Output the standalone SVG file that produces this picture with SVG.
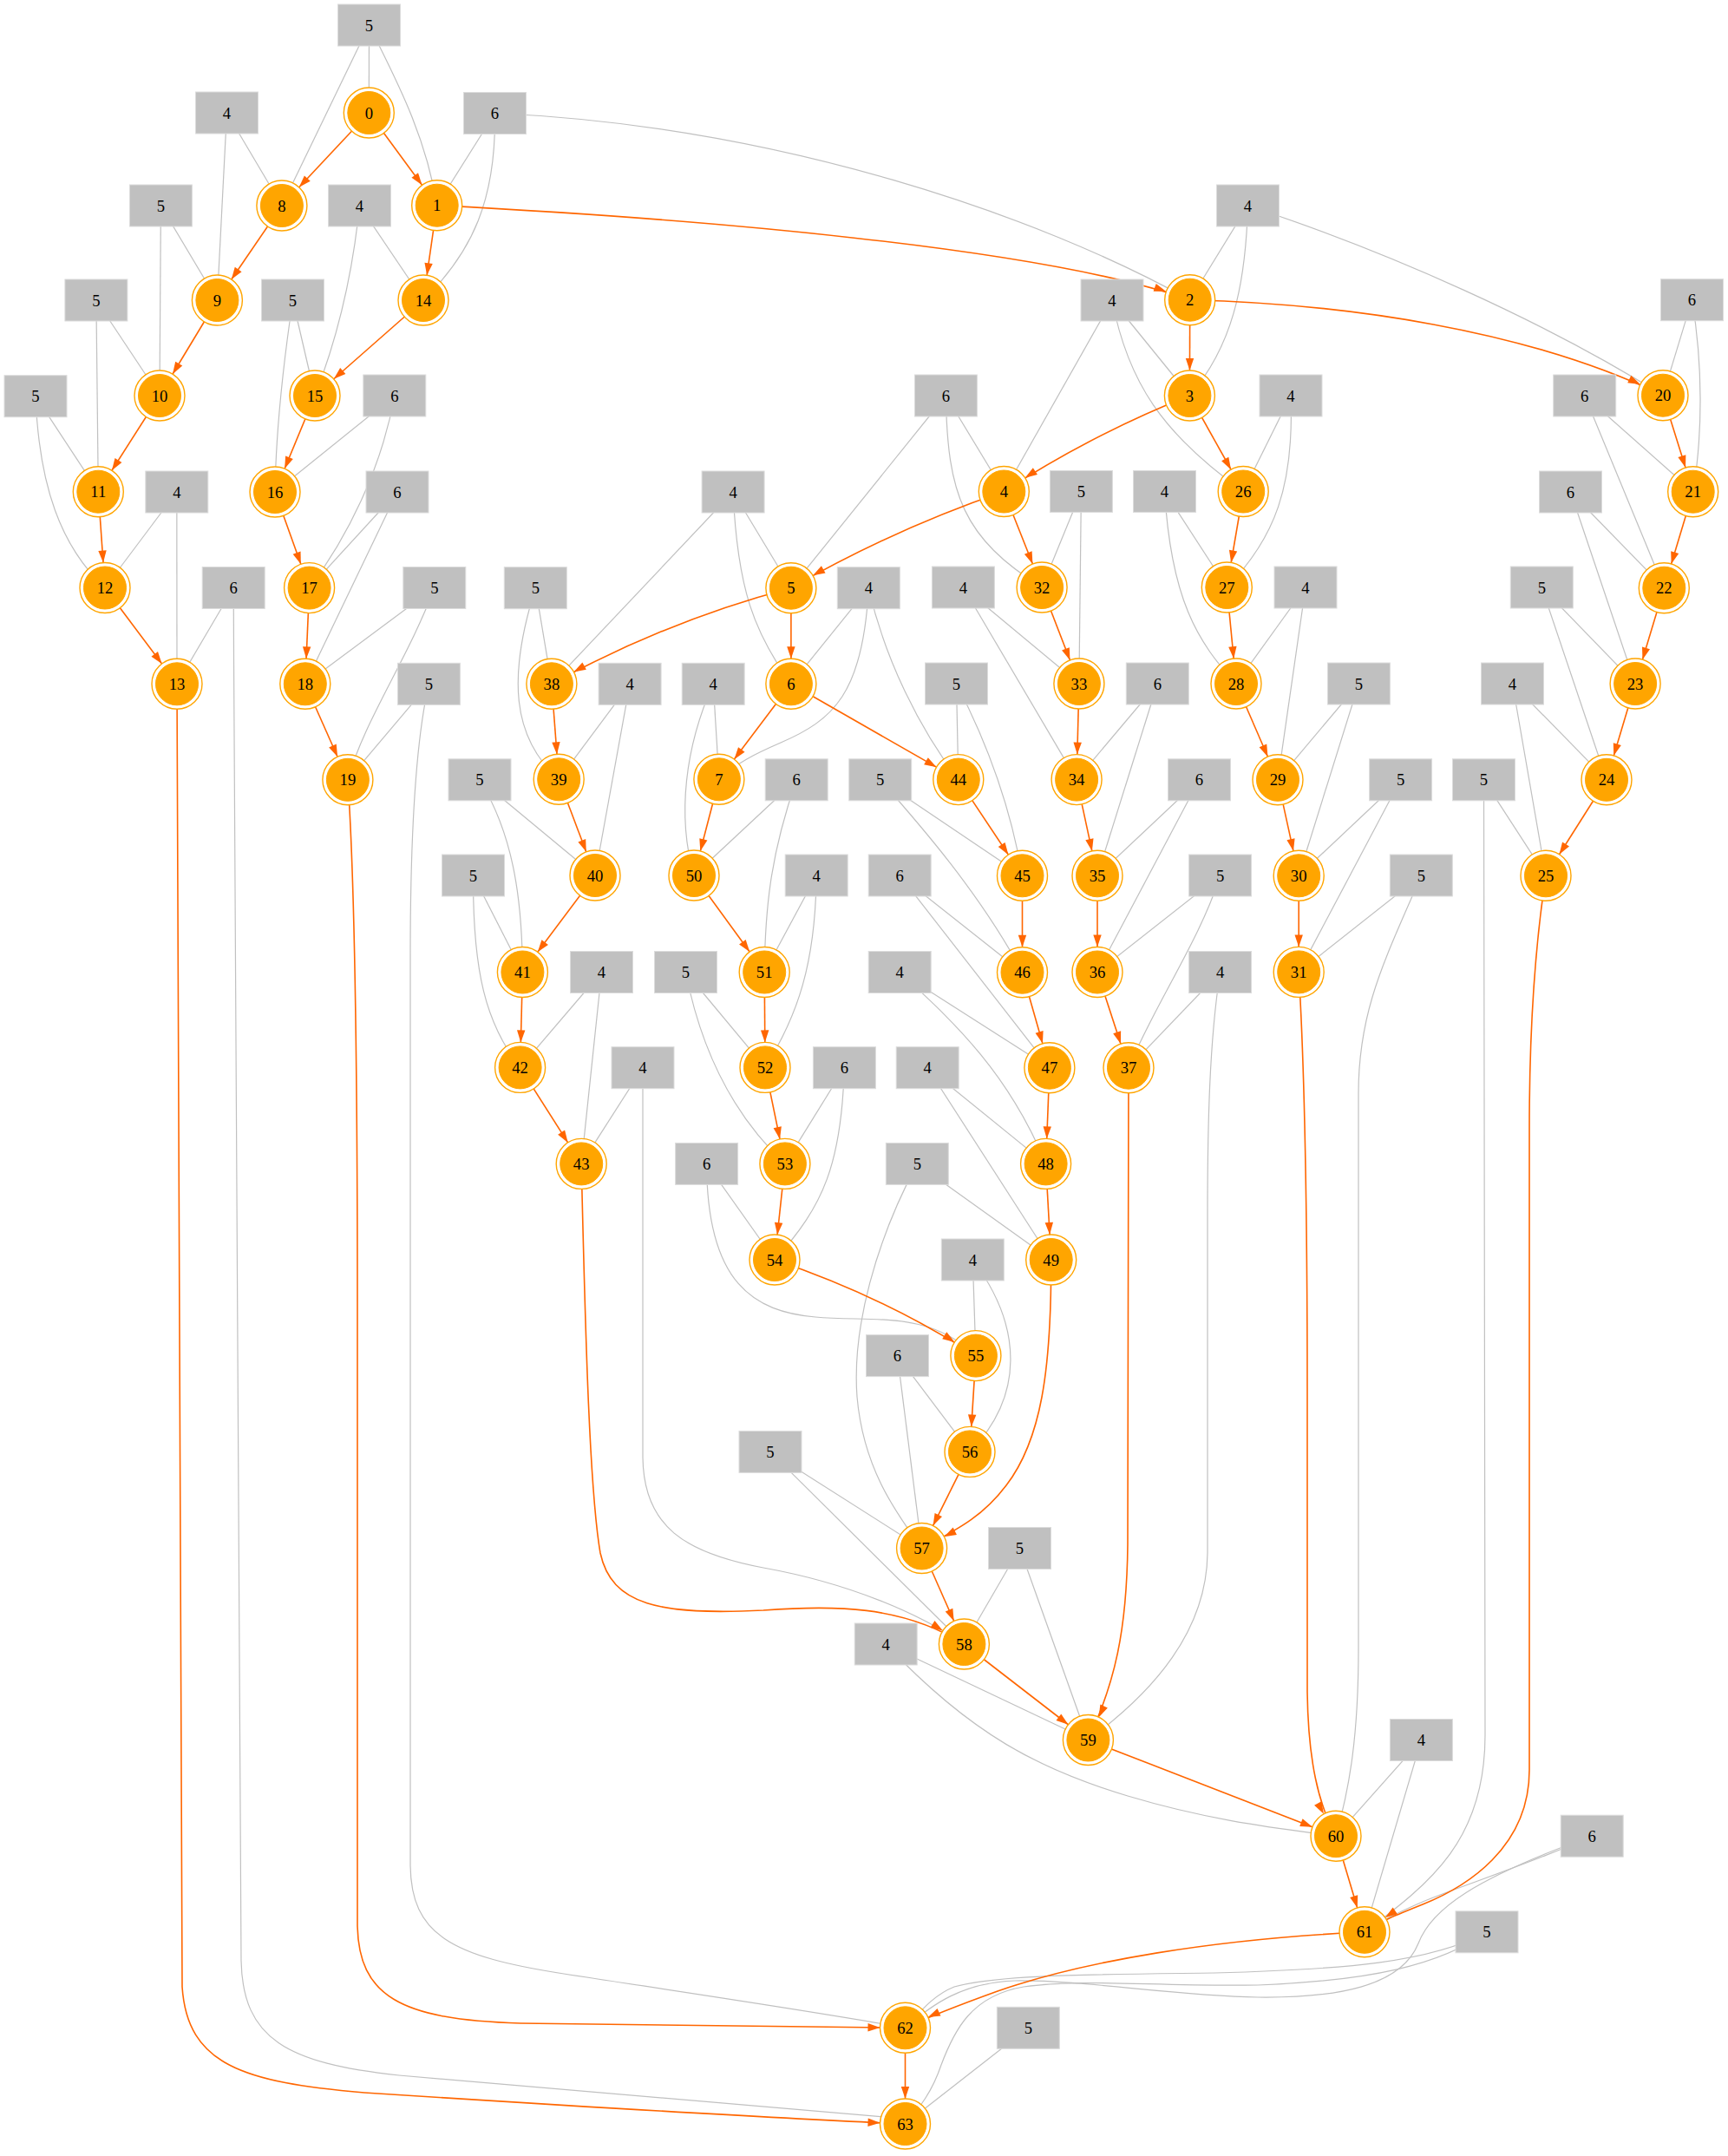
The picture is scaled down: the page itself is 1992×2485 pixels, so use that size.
<svg xmlns="http://www.w3.org/2000/svg" width="1992" height="2485" viewBox="0 0 1992 2485">
<style>
  .bg{fill:#ffffff}
  .e{fill:none;stroke:#c0c0c0;stroke-width:1.2}
  .a{fill:none;stroke:#ff6600;stroke-width:1.6;marker-end:url(#arr)}
  .r rect{fill:#c0c0c0;stroke:#dcdcdc;stroke-width:1}
  text{font-family:"Liberation Serif","Times New Roman",serif;font-size:18.67px;text-anchor:middle;fill:#000000}
</style>
<defs>
  <marker id="arr" markerUnits="userSpaceOnUse" markerWidth="14" markerHeight="10" refX="43" refY="5" orient="auto" overflow="visible">
    <path d="M0,0.3 L14,5 L0,9.7 z" fill="#ff6600"/>
  </marker>
  <g id="dc">
    <circle r="29" fill="#ffffff" stroke="#ffa500" stroke-width="1.4"/>
    <circle r="24.5" fill="#ffa500" stroke="#ffa500" stroke-width="1"/>
  </g>
</defs>
<rect class="bg" width="1992" height="2485"/>

<!-- connectors: grey weight inputs, orange chain -->
<g id="connectors">
  <g id="grey">
    <path class="e" d="M425.5,29 L425.3,130"/>
    <path class="e" d="M425.5,29 L324.9,237"/>
    <path class="e" d="M425.5,29 C450,80 490,150 503.7,236.7"/>
    <path class="e" d="M261.5,130 L324.9,237"/>
    <path class="e" d="M261.5,130 L250.4,346"/>
    <path class="e" d="M570.5,130.5 L503.7,236.7"/>
    <path class="e" d="M570.5,130.5 C572,230 545,290 488,346"/>
    <path class="e" d="M570.5,130.5 C900,145 1200,250 1371.7,345.7"/>
    <path class="e" d="M185.4,237 L250.4,346"/>
    <path class="e" d="M185.4,237 L184,456"/>
    <path class="e" d="M414.5,237 L488,346"/>
    <path class="e" d="M414.5,237 C405,330 385,400 363,456"/>
    <path class="e" d="M1438.5,237 L1371.7,345.7"/>
    <path class="e" d="M1438.5,237 C1436,330 1420,400 1371.4,456"/>
    <path class="e" d="M1438.5,237 C1600,290 1780,370 1917,455.7"/>
    <path class="e" d="M110.9,346 L184,456"/>
    <path class="e" d="M110.9,346 L113.3,566.7"/>
    <path class="e" d="M337.5,346 L363,456"/>
    <path class="e" d="M337.5,346 C325,430 318,500 317,567"/>
    <path class="e" d="M1282,346 L1371.4,456"/>
    <path class="e" d="M1282,346 L1157.3,566.5"/>
    <path class="e" d="M1282,346 C1300,440 1340,500 1433.2,566.5"/>
    <path class="e" d="M1950.5,345.7 L1917,455.7"/>
    <path class="e" d="M1950.5,345.7 C1963,420 1963,500 1951.7,566.7"/>
    <path class="e" d="M41,456.7 L113.3,566.7"/>
    <path class="e" d="M41,456.7 C45,560 70,630 121,677.5"/>
    <path class="e" d="M454.8,456 L317,567"/>
    <path class="e" d="M454.8,456 C440,540 400,620 356.6,677.6"/>
    <path class="e" d="M1090.4,456 L1157.3,566.5"/>
    <path class="e" d="M1090.4,456 L911.9,677.7"/>
    <path class="e" d="M1090.4,456 C1092,570 1110,620 1201.1,677"/>
    <path class="e" d="M1488,456 L1433.2,566.5"/>
    <path class="e" d="M1488,456 C1492,560 1470,620 1414.3,677"/>
    <path class="e" d="M1826.7,456 L1951.7,566.7"/>
    <path class="e" d="M1826.7,456 L1918.3,677.7"/>
    <path class="e" d="M203.8,567 L121,677.5"/>
    <path class="e" d="M203.8,567 L204,788.3"/>
    <path class="e" d="M458,567 L356.6,677.6"/>
    <path class="e" d="M458,567 L351.8,788.3"/>
    <path class="e" d="M845.1,567 L911.9,677.7"/>
    <path class="e" d="M845.1,567 L635.9,788.3"/>
    <path class="e" d="M845.1,567 C850,680 870,730 911.9,788.3"/>
    <path class="e" d="M1246.4,566.4 L1201.1,677"/>
    <path class="e" d="M1246.4,566.4 L1243.9,788"/>
    <path class="e" d="M1342.5,566.4 L1414.3,677"/>
    <path class="e" d="M1342.5,566.4 C1350,690 1380,740 1425,788"/>
    <path class="e" d="M1810.5,567 L1918.3,677.7"/>
    <path class="e" d="M1810.5,567 L1885.1,788"/>
    <path class="e" d="M269.2,677.5 L204,788.3"/>
    <path class="e" d="M269.2,677.5 C272,1400 276,2150 278,2260 C280,2350 330,2378 460,2392 C700,2412 900,2430 1043.5,2442"/>
    <path class="e" d="M500.8,677.5 L351.8,788.3"/>
    <path class="e" d="M500.8,677.5 C470,760 420,830 400.9,898.8"/>
    <path class="e" d="M617.3,677.7 L635.9,788.3"/>
    <path class="e" d="M617.3,677.7 C585,780 590,850 644.2,898.3"/>
    <path class="e" d="M1001.3,677.7 L911.9,788.3"/>
    <path class="e" d="M1001.3,677.7 C995,800 960,830 900,856 C870,869 848,880 828.9,898.3"/>
    <path class="e" d="M1001.3,677.7 C1020,760 1060,840 1104.8,898.6"/>
    <path class="e" d="M1110.4,677 L1243.9,788"/>
    <path class="e" d="M1110.4,677 L1241.1,898.6"/>
    <path class="e" d="M1505,677 L1425,788"/>
    <path class="e" d="M1505,677 L1473,898.8"/>
    <path class="e" d="M1777.3,677 L1885.1,788"/>
    <path class="e" d="M1777.3,677 L1852,898.8"/>
    <path class="e" d="M494.4,788.3 L400.9,898.8"/>
    <path class="e" d="M494.4,788.3 C480,850 473,950 473,1100 L473,2150 C474,2230 520,2255 650,2275 C800,2298 950,2320 1043.5,2337.3"/>
    <path class="e" d="M726.1,788.3 L644.2,898.3"/>
    <path class="e" d="M726.1,788.3 L686,1009"/>
    <path class="e" d="M822.2,788.3 L828.9,898.3"/>
    <path class="e" d="M822.2,788.3 C790,860 780,940 800,1009"/>
    <path class="e" d="M1102.5,788 L1104.8,898.6"/>
    <path class="e" d="M1102.5,788 C1140,860 1165,930 1178.5,1009.3"/>
    <path class="e" d="M1334.3,788 L1241.1,898.6"/>
    <path class="e" d="M1334.3,788 L1265,1009.3"/>
    <path class="e" d="M1566.4,788 L1473,898.8"/>
    <path class="e" d="M1566.4,788 L1497.2,1009.3"/>
    <path class="e" d="M1743.5,788 L1852,898.8"/>
    <path class="e" d="M1743.5,788 L1782,1009.3"/>
    <path class="e" d="M553,898.8 L686,1009"/>
    <path class="e" d="M553,898.8 C590,960 602,1030 602.4,1120.5"/>
    <path class="e" d="M918.2,898.8 L800,1009"/>
    <path class="e" d="M918.2,898.8 C890,980 882,1040 881.2,1120.5"/>
    <path class="e" d="M1014.7,898.8 L1178.5,1009.3"/>
    <path class="e" d="M1014.7,898.8 C1060,950 1130,1030 1178.5,1120.7"/>
    <path class="e" d="M1382.5,898.8 L1265,1009.3"/>
    <path class="e" d="M1382.5,898.8 L1265,1120.5"/>
    <path class="e" d="M1614.6,898.8 L1497.2,1009.3"/>
    <path class="e" d="M1614.6,898.8 L1497.2,1120.4"/>
    <path class="e" d="M1710.5,898.8 L1782,1009.3"/>
    <path class="e" d="M1710.5,898.8 L1712,2000 C1712,2120 1650,2170 1573,2226.8"/>
    <path class="e" d="M545.5,1009 L602.4,1120.5"/>
    <path class="e" d="M545.5,1009 C545,1120 560,1180 599.6,1230.4"/>
    <path class="e" d="M941.2,1009 L881.2,1120.5"/>
    <path class="e" d="M941.2,1009 C940,1110 920,1170 882,1230.4"/>
    <path class="e" d="M1037.2,1009 L1178.5,1120.7"/>
    <path class="e" d="M1037.2,1009 L1209.9,1230.7"/>
    <path class="e" d="M1406.6,1009 L1265,1120.5"/>
    <path class="e" d="M1406.6,1009 C1385,1080 1330,1160 1301,1230.7"/>
    <path class="e" d="M1638.3,1009 L1497.2,1120.4"/>
    <path class="e" d="M1638.3,1009 C1600,1100 1566,1160 1566,1260 L1566,1900 C1566,2000 1556,2060 1540,2116.2"/>
    <path class="e" d="M693.5,1120.5 L599.6,1230.4"/>
    <path class="e" d="M693.5,1120.5 L670.2,1341.4"/>
    <path class="e" d="M790.5,1120.5 L882,1230.4"/>
    <path class="e" d="M790.5,1120.5 C810,1220 850,1290 904.9,1341.4"/>
    <path class="e" d="M1037.2,1120.5 L1209.9,1230.7"/>
    <path class="e" d="M1037.2,1120.5 C1090,1170 1160,1230 1205.6,1341.4"/>
    <path class="e" d="M1406.6,1120.5 L1301,1230.7"/>
    <path class="e" d="M1406.6,1120.5 C1394,1200 1392,1300 1392,1400 L1392,1790 C1391,1880 1330,1950 1254.4,2005.5"/>
    <path class="e" d="M741,1230.7 L670.2,1341.4"/>
    <path class="e" d="M741,1230.7 L741,1680 C742,1760 790,1790 880,1807 C980,1825 1060,1860 1111.4,1895"/>
    <path class="e" d="M973.4,1230.7 L904.9,1341.4"/>
    <path class="e" d="M973.4,1230.7 C970,1340 950,1390 893,1452"/>
    <path class="e" d="M1069.2,1230.7 L1205.6,1341.4"/>
    <path class="e" d="M1069.2,1230.7 L1211.7,1452"/>
    <path class="e" d="M814.6,1341.4 L893,1452"/>
    <path class="e" d="M814.6,1341.4 C815,1480 870,1512 940,1518 C1010,1524 1070,1510 1124.9,1562.6"/>
    <path class="e" d="M1057.3,1341.4 L1211.7,1452"/>
    <path class="e" d="M1057.3,1341.4 C1010,1430 982,1530 988,1610 C995,1690 1030,1740 1062.6,1784.5"/>
    <path class="e" d="M1121.3,1452 L1124.9,1562.6"/>
    <path class="e" d="M1121.3,1452 C1180,1530 1180,1610 1118,1673.4"/>
    <path class="e" d="M1034.5,1562.6 L1118,1673.4"/>
    <path class="e" d="M1034.5,1562.6 L1062.6,1784.5"/>
    <path class="e" d="M888,1673.4 L1062.6,1784.5"/>
    <path class="e" d="M888,1673.4 L1111.4,1895"/>
    <path class="e" d="M1175.5,1784.5 L1111.4,1895"/>
    <path class="e" d="M1175.5,1784.5 L1254.4,2005.5"/>
    <path class="e" d="M1021.2,1895 L1254.4,2005.5"/>
    <path class="e" d="M1021.2,1895 C1120,2000 1200,2040 1300,2070 C1400,2100 1480,2108 1540,2116.2"/>
    <path class="e" d="M1638.4,2005.5 L1540,2116.2"/>
    <path class="e" d="M1638.4,2005.5 L1573,2226.8"/>
    <path class="e" d="M1835.2,2116.2 C1760,2150 1680,2175 1640,2192 C1610,2205 1590,2215 1573,2226.8"/>
    <path class="e" d="M1835.2,2116.2 C1700,2165 1650,2200 1635,2240 C1615,2290 1540,2303 1450,2302 C1350,2300 1250,2282 1170,2283 C1110,2285 1075,2310 1043.5,2337.3"/>
    <path class="e" d="M1714,2226.8 C1650,2262 1550,2270 1400,2274 C1250,2276 1150,2276 1100,2290 C1075,2300 1060,2320 1043.5,2337.3"/>
    <path class="e" d="M1714,2226.8 C1660,2265 1580,2283 1450,2288 C1330,2290 1250,2280 1180,2290 C1120,2300 1100,2340 1085,2380 C1075,2410 1060,2430 1043.5,2448"/>
    <path class="e" d="M1185.3,2337.3 L1043.5,2448"/>
  </g>
  <g id="chain">
    <path class="a" d="M425.3,130 L324.9,237"/>
    <path class="a" d="M425.3,130 L503.7,236.7"/>
    <path class="a" d="M324.9,237 L250.4,346"/>
    <path class="a" d="M503.7,236.7 L488,346"/>
    <path class="a" d="M503.7,236.7 C800,252 1200,285 1371.7,345.7"/>
    <path class="a" d="M250.4,346 L184,456"/>
    <path class="a" d="M488,346 L363,456"/>
    <path class="a" d="M184,456 L113.3,566.7"/>
    <path class="a" d="M363,456 L317,567"/>
    <path class="a" d="M113.3,566.7 L121,677.5"/>
    <path class="a" d="M317,567 L356.6,677.6"/>
    <path class="a" d="M121,677.5 L204,788.3"/>
    <path class="a" d="M356.6,677.6 L351.8,788.3"/>
    <path class="a" d="M204,788.3 C205,1600 205,2200 210,2290 C216,2380 280,2400 420,2412 C700,2430 900,2442 1043.5,2448"/>
    <path class="a" d="M351.8,788.3 L400.9,898.8"/>
    <path class="a" d="M400.9,898.8 C408,1000 412,1200 412,1500 L412,2220 C414,2300 460,2328 600,2332 L1043.5,2337.3"/>
    <path class="a" d="M1371.7,345.7 L1371.4,456"/>
    <path class="a" d="M1371.7,345.7 C1550,350 1760,380 1917,455.7"/>
    <path class="a" d="M1371.4,456 Q1260,500 1157.3,566.5"/>
    <path class="a" d="M1371.4,456 L1433.2,566.5"/>
    <path class="a" d="M1157.3,566.5 Q1030,610 911.9,677.7"/>
    <path class="a" d="M1157.3,566.5 L1201.1,677"/>
    <path class="a" d="M1433.2,566.5 L1414.3,677"/>
    <path class="a" d="M911.9,677.7 Q770,715 635.9,788.3"/>
    <path class="a" d="M911.9,677.7 L911.9,788.3"/>
    <path class="a" d="M1201.1,677 L1243.9,788"/>
    <path class="a" d="M1414.3,677 L1425,788"/>
    <path class="a" d="M911.9,788.3 L828.9,898.3"/>
    <path class="a" d="M911.9,788.3 L1104.8,898.6"/>
    <path class="a" d="M635.9,788.3 L644.2,898.3"/>
    <path class="a" d="M1243.9,788 L1241.1,898.6"/>
    <path class="a" d="M1425,788 L1473,898.8"/>
    <path class="a" d="M828.9,898.3 L800,1009"/>
    <path class="a" d="M644.2,898.3 L686,1009"/>
    <path class="a" d="M1104.8,898.6 L1178.5,1009.3"/>
    <path class="a" d="M1241.1,898.6 L1265,1009.3"/>
    <path class="a" d="M1473,898.8 L1497.2,1009.3"/>
    <path class="a" d="M686,1009 L602.4,1120.5"/>
    <path class="a" d="M800,1009 L881.2,1120.5"/>
    <path class="a" d="M1178.5,1009.3 L1178.5,1120.7"/>
    <path class="a" d="M1265,1009.3 L1265,1120.5"/>
    <path class="a" d="M1497.2,1009.3 L1497.2,1120.4"/>
    <path class="a" d="M602.4,1120.5 L599.6,1230.4"/>
    <path class="a" d="M881.2,1120.5 L882,1230.4"/>
    <path class="a" d="M1178.5,1120.7 L1209.9,1230.7"/>
    <path class="a" d="M1265,1120.5 L1301,1230.7"/>
    <path class="a" d="M1497.2,1120.4 C1505,1250 1507,1400 1507,1600 L1507,1950 C1508,2030 1520,2080 1540,2116.2"/>
    <path class="a" d="M599.6,1230.4 L670.2,1341.4"/>
    <path class="a" d="M882,1230.4 L904.9,1341.4"/>
    <path class="a" d="M1209.9,1230.7 L1205.6,1341.4"/>
    <path class="a" d="M1301,1230.7 L1300,1780 C1299,1880 1285,1940 1254.4,2005.5"/>
    <path class="a" d="M670.2,1341.4 C675,1550 680,1720 692,1790 C705,1850 760,1862 880,1856 C960,1850 1040,1850 1111.4,1895"/>
    <path class="a" d="M904.9,1341.4 L893,1452"/>
    <path class="a" d="M1205.6,1341.4 L1211.7,1452"/>
    <path class="a" d="M1211.7,1452 C1212,1580 1200,1660 1160,1712 C1135,1745 1110,1760 1062.6,1784.5"/>
    <path class="a" d="M893,1452 Q1020,1495 1124.9,1562.6"/>
    <path class="a" d="M1124.9,1562.6 L1118,1673.4"/>
    <path class="a" d="M1118,1673.4 L1062.6,1784.5"/>
    <path class="a" d="M1062.6,1784.5 L1111.4,1895"/>
    <path class="a" d="M1111.4,1895 L1254.4,2005.5"/>
    <path class="a" d="M1254.4,2005.5 L1540,2116.2"/>
    <path class="a" d="M1540,2116.2 L1573,2226.8"/>
    <path class="a" d="M1917,455.7 L1951.7,566.7"/>
    <path class="a" d="M1951.7,566.7 L1918.3,677.7"/>
    <path class="a" d="M1918.3,677.7 L1885.1,788"/>
    <path class="a" d="M1885.1,788 L1852,898.8"/>
    <path class="a" d="M1852,898.8 L1782,1009.3"/>
    <path class="a" d="M1782,1009.3 C1768,1100 1763,1200 1763,1300 L1763,2040 C1763,2130 1690,2175 1640,2195 C1610,2207 1590,2215 1573,2226.8"/>
    <path class="a" d="M1573,2226.8 C1400,2235 1250,2260 1150,2295 C1100,2313 1070,2325 1043.5,2337.3"/>
    <path class="a" d="M1043.5,2337.3 L1043.5,2448"/>
  </g>
</g>

<!-- weight boxes -->
<g id="weights" class="r">
  <g id="w0"><rect x="389.5" y="5" width="72" height="48"/><text x="425.5" y="35.5">5</text></g>
  <g id="w1"><rect x="225.5" y="106" width="72" height="48"/><text x="261.5" y="136.5">4</text></g>
  <g id="w2"><rect x="534.5" y="106.5" width="72" height="48"/><text x="570.5" y="137">6</text></g>
  <g id="w3"><rect x="149.4" y="213" width="72" height="48"/><text x="185.4" y="243.5">5</text></g>
  <g id="w4"><rect x="378.5" y="213" width="72" height="48"/><text x="414.5" y="243.5">4</text></g>
  <g id="w5"><rect x="1402.5" y="213" width="72" height="48"/><text x="1438.5" y="243.5">4</text></g>
  <g id="w6"><rect x="74.9" y="322" width="72" height="48"/><text x="110.9" y="352.5">5</text></g>
  <g id="w7"><rect x="301.5" y="322" width="72" height="48"/><text x="337.5" y="352.5">5</text></g>
  <g id="w8"><rect x="1246" y="322" width="72" height="48"/><text x="1282" y="352.5">4</text></g>
  <g id="w9"><rect x="1914.5" y="321.7" width="72" height="48"/><text x="1950.5" y="352.2">6</text></g>
  <g id="w10"><rect x="5" y="432.7" width="72" height="48"/><text x="41" y="463.2">5</text></g>
  <g id="w11"><rect x="418.8" y="432" width="72" height="48"/><text x="454.8" y="462.5">6</text></g>
  <g id="w12"><rect x="1054.4" y="432" width="72" height="48"/><text x="1090.4" y="462.5">6</text></g>
  <g id="w13"><rect x="1452" y="432" width="72" height="48"/><text x="1488" y="462.5">4</text></g>
  <g id="w14"><rect x="1790.7" y="432" width="72" height="48"/><text x="1826.7" y="462.5">6</text></g>
  <g id="w15"><rect x="167.8" y="543" width="72" height="48"/><text x="203.8" y="573.5">4</text></g>
  <g id="w16"><rect x="422" y="543" width="72" height="48"/><text x="458" y="573.5">6</text></g>
  <g id="w17"><rect x="809.1" y="543" width="72" height="48"/><text x="845.1" y="573.5">4</text></g>
  <g id="w18"><rect x="1210.4" y="542.4" width="72" height="48"/><text x="1246.4" y="572.9">5</text></g>
  <g id="w19"><rect x="1306.5" y="542.4" width="72" height="48"/><text x="1342.5" y="572.9">4</text></g>
  <g id="w20"><rect x="1774.5" y="543" width="72" height="48"/><text x="1810.5" y="573.5">6</text></g>
  <g id="w21"><rect x="233.2" y="653.5" width="72" height="48"/><text x="269.2" y="684">6</text></g>
  <g id="w22"><rect x="464.8" y="653.5" width="72" height="48"/><text x="500.8" y="684">5</text></g>
  <g id="w23"><rect x="581.3" y="653.7" width="72" height="48"/><text x="617.3" y="684.2">5</text></g>
  <g id="w24"><rect x="965.3" y="653.7" width="72" height="48"/><text x="1001.3" y="684.2">4</text></g>
  <g id="w25"><rect x="1074.4" y="653" width="72" height="48"/><text x="1110.4" y="683.5">4</text></g>
  <g id="w26"><rect x="1469" y="653" width="72" height="48"/><text x="1505" y="683.5">4</text></g>
  <g id="w27"><rect x="1741.3" y="653" width="72" height="48"/><text x="1777.3" y="683.5">5</text></g>
  <g id="w28"><rect x="458.4" y="764.3" width="72" height="48"/><text x="494.4" y="794.8">5</text></g>
  <g id="w29"><rect x="690.1" y="764.3" width="72" height="48"/><text x="726.1" y="794.8">4</text></g>
  <g id="w30"><rect x="786.2" y="764.3" width="72" height="48"/><text x="822.2" y="794.8">4</text></g>
  <g id="w31"><rect x="1066.5" y="764" width="72" height="48"/><text x="1102.5" y="794.5">5</text></g>
  <g id="w32"><rect x="1298.3" y="764" width="72" height="48"/><text x="1334.3" y="794.5">6</text></g>
  <g id="w33"><rect x="1530.4" y="764" width="72" height="48"/><text x="1566.4" y="794.5">5</text></g>
  <g id="w34"><rect x="1707.5" y="764" width="72" height="48"/><text x="1743.5" y="794.5">4</text></g>
  <g id="w35"><rect x="517" y="874.8" width="72" height="48"/><text x="553" y="905.3">5</text></g>
  <g id="w36"><rect x="882.2" y="874.8" width="72" height="48"/><text x="918.2" y="905.3">6</text></g>
  <g id="w37"><rect x="978.7" y="874.8" width="72" height="48"/><text x="1014.7" y="905.3">5</text></g>
  <g id="w38"><rect x="1346.5" y="874.8" width="72" height="48"/><text x="1382.5" y="905.3">6</text></g>
  <g id="w39"><rect x="1578.6" y="874.8" width="72" height="48"/><text x="1614.6" y="905.3">5</text></g>
  <g id="w40"><rect x="1674.5" y="874.8" width="72" height="48"/><text x="1710.5" y="905.3">5</text></g>
  <g id="w41"><rect x="509.5" y="985" width="72" height="48"/><text x="545.5" y="1015.5">5</text></g>
  <g id="w42"><rect x="905.2" y="985" width="72" height="48"/><text x="941.2" y="1015.5">4</text></g>
  <g id="w43"><rect x="1001.2" y="985" width="72" height="48"/><text x="1037.2" y="1015.5">6</text></g>
  <g id="w44"><rect x="1370.6" y="985" width="72" height="48"/><text x="1406.6" y="1015.5">5</text></g>
  <g id="w45"><rect x="1602.3" y="985" width="72" height="48"/><text x="1638.3" y="1015.5">5</text></g>
  <g id="w46"><rect x="657.5" y="1096.5" width="72" height="48"/><text x="693.5" y="1127">4</text></g>
  <g id="w47"><rect x="754.5" y="1096.5" width="72" height="48"/><text x="790.5" y="1127">5</text></g>
  <g id="w48"><rect x="1001.2" y="1096.5" width="72" height="48"/><text x="1037.2" y="1127">4</text></g>
  <g id="w49"><rect x="1370.6" y="1096.5" width="72" height="48"/><text x="1406.6" y="1127">4</text></g>
  <g id="w50"><rect x="705" y="1206.7" width="72" height="48"/><text x="741" y="1237.2">4</text></g>
  <g id="w51"><rect x="937.4" y="1206.7" width="72" height="48"/><text x="973.4" y="1237.2">6</text></g>
  <g id="w52"><rect x="1033.2" y="1206.7" width="72" height="48"/><text x="1069.2" y="1237.2">4</text></g>
  <g id="w53"><rect x="778.6" y="1317.4" width="72" height="48"/><text x="814.6" y="1347.9">6</text></g>
  <g id="w54"><rect x="1021.3" y="1317.4" width="72" height="48"/><text x="1057.3" y="1347.9">5</text></g>
  <g id="w55"><rect x="1085.3" y="1428" width="72" height="48"/><text x="1121.3" y="1458.5">4</text></g>
  <g id="w56"><rect x="998.5" y="1538.6" width="72" height="48"/><text x="1034.5" y="1569.1">6</text></g>
  <g id="w57"><rect x="852" y="1649.4" width="72" height="48"/><text x="888" y="1679.9">5</text></g>
  <g id="w58"><rect x="1139.5" y="1760.5" width="72" height="48"/><text x="1175.5" y="1791">5</text></g>
  <g id="w59"><rect x="985.2" y="1871" width="72" height="48"/><text x="1021.2" y="1901.5">4</text></g>
  <g id="w60"><rect x="1602.4" y="1981.5" width="72" height="48"/><text x="1638.4" y="2012">4</text></g>
  <g id="w61"><rect x="1799.2" y="2092.2" width="72" height="48"/><text x="1835.2" y="2122.7">6</text></g>
  <g id="w62"><rect x="1678" y="2202.8" width="72" height="48"/><text x="1714" y="2233.3">5</text></g>
  <g id="w63"><rect x="1149.3" y="2313.3" width="72" height="48"/><text x="1185.3" y="2343.8">5</text></g>
</g>

<!-- layer nodes -->
<g id="layers">
  <g id="n0" transform="translate(425.3,130)"><use href="#dc"/><text y="6.5">0</text></g>
  <g id="n1" transform="translate(503.7,236.7)"><use href="#dc"/><text y="6.5">1</text></g>
  <g id="n2" transform="translate(1371.7,345.7)"><use href="#dc"/><text y="6.5">2</text></g>
  <g id="n3" transform="translate(1371.4,456)"><use href="#dc"/><text y="6.5">3</text></g>
  <g id="n4" transform="translate(1157.3,566.5)"><use href="#dc"/><text y="6.5">4</text></g>
  <g id="n5" transform="translate(911.9,677.7)"><use href="#dc"/><text y="6.5">5</text></g>
  <g id="n6" transform="translate(911.9,788.3)"><use href="#dc"/><text y="6.5">6</text></g>
  <g id="n7" transform="translate(828.9,898.3)"><use href="#dc"/><text y="6.5">7</text></g>
  <g id="n8" transform="translate(324.9,237)"><use href="#dc"/><text y="6.5">8</text></g>
  <g id="n9" transform="translate(250.4,346)"><use href="#dc"/><text y="6.5">9</text></g>
  <g id="n10" transform="translate(184,456)"><use href="#dc"/><text y="6.5">10</text></g>
  <g id="n11" transform="translate(113.3,566.7)"><use href="#dc"/><text y="6.5">11</text></g>
  <g id="n12" transform="translate(121,677.5)"><use href="#dc"/><text y="6.5">12</text></g>
  <g id="n13" transform="translate(204,788.3)"><use href="#dc"/><text y="6.5">13</text></g>
  <g id="n14" transform="translate(488,346)"><use href="#dc"/><text y="6.5">14</text></g>
  <g id="n15" transform="translate(363,456)"><use href="#dc"/><text y="6.5">15</text></g>
  <g id="n16" transform="translate(317,567)"><use href="#dc"/><text y="6.5">16</text></g>
  <g id="n17" transform="translate(356.6,677.6)"><use href="#dc"/><text y="6.5">17</text></g>
  <g id="n18" transform="translate(351.8,788.3)"><use href="#dc"/><text y="6.5">18</text></g>
  <g id="n19" transform="translate(400.9,898.8)"><use href="#dc"/><text y="6.5">19</text></g>
  <g id="n20" transform="translate(1917,455.7)"><use href="#dc"/><text y="6.5">20</text></g>
  <g id="n21" transform="translate(1951.7,566.7)"><use href="#dc"/><text y="6.5">21</text></g>
  <g id="n22" transform="translate(1918.3,677.7)"><use href="#dc"/><text y="6.5">22</text></g>
  <g id="n23" transform="translate(1885.1,788)"><use href="#dc"/><text y="6.5">23</text></g>
  <g id="n24" transform="translate(1852,898.8)"><use href="#dc"/><text y="6.5">24</text></g>
  <g id="n25" transform="translate(1782,1009.3)"><use href="#dc"/><text y="6.5">25</text></g>
  <g id="n26" transform="translate(1433.2,566.5)"><use href="#dc"/><text y="6.5">26</text></g>
  <g id="n27" transform="translate(1414.3,677)"><use href="#dc"/><text y="6.5">27</text></g>
  <g id="n28" transform="translate(1425,788)"><use href="#dc"/><text y="6.5">28</text></g>
  <g id="n29" transform="translate(1473,898.8)"><use href="#dc"/><text y="6.5">29</text></g>
  <g id="n30" transform="translate(1497.2,1009.3)"><use href="#dc"/><text y="6.5">30</text></g>
  <g id="n31" transform="translate(1497.2,1120.4)"><use href="#dc"/><text y="6.5">31</text></g>
  <g id="n32" transform="translate(1201.1,677)"><use href="#dc"/><text y="6.5">32</text></g>
  <g id="n33" transform="translate(1243.9,788)"><use href="#dc"/><text y="6.5">33</text></g>
  <g id="n34" transform="translate(1241.1,898.6)"><use href="#dc"/><text y="6.5">34</text></g>
  <g id="n35" transform="translate(1265,1009.3)"><use href="#dc"/><text y="6.5">35</text></g>
  <g id="n36" transform="translate(1265,1120.5)"><use href="#dc"/><text y="6.5">36</text></g>
  <g id="n37" transform="translate(1301,1230.7)"><use href="#dc"/><text y="6.5">37</text></g>
  <g id="n38" transform="translate(635.9,788.3)"><use href="#dc"/><text y="6.5">38</text></g>
  <g id="n39" transform="translate(644.2,898.3)"><use href="#dc"/><text y="6.5">39</text></g>
  <g id="n40" transform="translate(686,1009)"><use href="#dc"/><text y="6.5">40</text></g>
  <g id="n41" transform="translate(602.4,1120.5)"><use href="#dc"/><text y="6.5">41</text></g>
  <g id="n42" transform="translate(599.6,1230.4)"><use href="#dc"/><text y="6.5">42</text></g>
  <g id="n43" transform="translate(670.2,1341.4)"><use href="#dc"/><text y="6.5">43</text></g>
  <g id="n44" transform="translate(1104.8,898.6)"><use href="#dc"/><text y="6.5">44</text></g>
  <g id="n45" transform="translate(1178.5,1009.3)"><use href="#dc"/><text y="6.5">45</text></g>
  <g id="n46" transform="translate(1178.5,1120.7)"><use href="#dc"/><text y="6.5">46</text></g>
  <g id="n47" transform="translate(1209.9,1230.7)"><use href="#dc"/><text y="6.5">47</text></g>
  <g id="n48" transform="translate(1205.6,1341.4)"><use href="#dc"/><text y="6.5">48</text></g>
  <g id="n49" transform="translate(1211.7,1452)"><use href="#dc"/><text y="6.5">49</text></g>
  <g id="n50" transform="translate(800,1009)"><use href="#dc"/><text y="6.5">50</text></g>
  <g id="n51" transform="translate(881.2,1120.5)"><use href="#dc"/><text y="6.5">51</text></g>
  <g id="n52" transform="translate(882,1230.4)"><use href="#dc"/><text y="6.5">52</text></g>
  <g id="n53" transform="translate(904.9,1341.4)"><use href="#dc"/><text y="6.5">53</text></g>
  <g id="n54" transform="translate(893,1452)"><use href="#dc"/><text y="6.5">54</text></g>
  <g id="n55" transform="translate(1124.9,1562.6)"><use href="#dc"/><text y="6.5">55</text></g>
  <g id="n56" transform="translate(1118,1673.4)"><use href="#dc"/><text y="6.5">56</text></g>
  <g id="n57" transform="translate(1062.6,1784.5)"><use href="#dc"/><text y="6.5">57</text></g>
  <g id="n58" transform="translate(1111.4,1895)"><use href="#dc"/><text y="6.5">58</text></g>
  <g id="n59" transform="translate(1254.4,2005.5)"><use href="#dc"/><text y="6.5">59</text></g>
  <g id="n60" transform="translate(1540,2116.2)"><use href="#dc"/><text y="6.5">60</text></g>
  <g id="n61" transform="translate(1573,2226.8)"><use href="#dc"/><text y="6.5">61</text></g>
  <g id="n62" transform="translate(1043.5,2337.3)"><use href="#dc"/><text y="6.5">62</text></g>
  <g id="n63" transform="translate(1043.5,2448)"><use href="#dc"/><text y="6.5">63</text></g>
</g>
</svg>
